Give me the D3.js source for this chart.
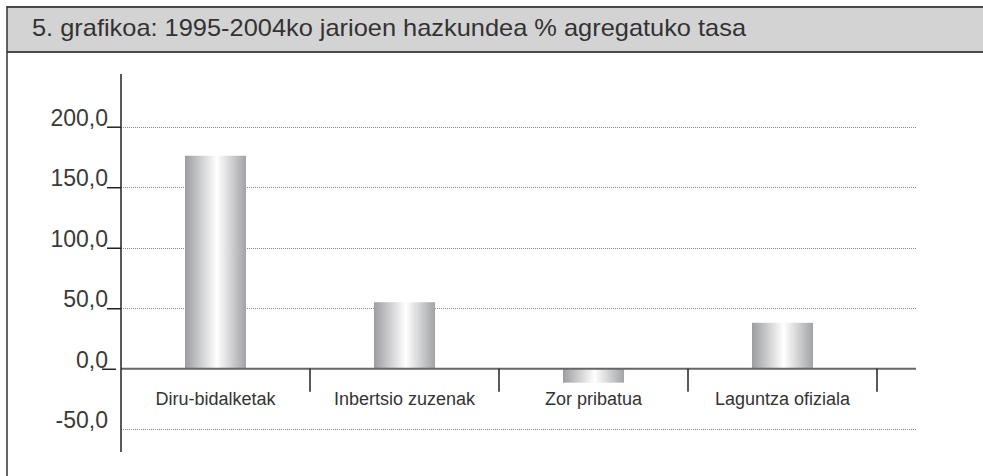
<!DOCTYPE html>
<meta charset="utf-8">
<style>

body {
  margin: 0;
  background: #fff;
  font-family: "Liberation Sans", Arial, sans-serif;
}

.grid line {
  stroke: #8a8a8a;
  stroke-dasharray: 1,1;
}

.y.axis path {
  display: none;
}

.y.axis line {
  stroke: #222;
  stroke-width: 1.5;
}

.y.axis text {
  font-size: 23px;
  fill: #3a3a3a;
}

.cat text {
  font-size: 18px;
  fill: #333;
  text-anchor: middle;
}

</style>
<body>

<script src="https://cdnjs.cloudflare.com/ajax/libs/d3/7.8.5/d3.min.js"></script>

<script>
var title = "5. grafikoa: 1995-2004ko jarioen hazkundea % agregatuko tasa";

var categories = ["Diru-bidalketak", "Inbertsio zuzenak", "Zor pribatua", "Laguntza ofiziala"];
var values = [176, 55, -11.5, 38];
var yTicks = [-50, 0, 50, 100, 150, 200];

var width = 983,
    height = 476;

var svg = d3.select("body").append("svg")
    .attr("width", width)
    .attr("height", height);

// header band
svg.append("rect")
    .attr("x", 7)
    .attr("y", 7)
    .attr("width", width - 7)
    .attr("height", 45)
    .attr("fill", "#d3d3d3");

svg.append("line")
    .attr("x1", 7).attr("x2", width)
    .attr("y1", 7).attr("y2", 7)
    .attr("stroke", "#4a4a4a").attr("stroke-width", 2);

svg.append("line")
    .attr("x1", 7).attr("x2", width)
    .attr("y1", 52).attr("y2", 52)
    .attr("stroke", "#4a4a4a").attr("stroke-width", 2);

svg.append("line")
    .attr("x1", 7).attr("x2", 7)
    .attr("y1", 6).attr("y2", height)
    .attr("stroke", "#333").attr("stroke-width", 1.5);

svg.append("text")
    .attr("x", 32)
    .attr("y", 36)
    .attr("textLength", 714)
    .attr("lengthAdjust", "spacingAndGlyphs")
    .style("font-size", "24px")
    .style("fill", "#333")
    .text(title);

// scales
var y = d3.scaleLinear()
    .domain([-50, 200])
    .range([429.3, 126.7]);

var x = d3.scaleBand()
    .domain(categories)
    .range([121, 877]);

var barW = x.bandwidth() * 0.323;
var gridEnd = 916;

// gradient for the bars
var grad = svg.append("defs").append("linearGradient")
    .attr("id", "barGrad")
    .attr("x1", "0%").attr("x2", "100%")
    .attr("y1", "0%").attr("y2", "0%");
grad.append("stop").attr("offset", "0%").attr("stop-color", "#9c9da1");
grad.append("stop").attr("offset", "52%").attr("stop-color", "#ffffff");
grad.append("stop").attr("offset", "100%").attr("stop-color", "#a2a3a7");

// dotted gridlines
svg.append("g")
    .attr("class", "grid")
  .selectAll("line")
    .data(yTicks.filter(function(d) { return d !== 0; }))
  .enter().append("line")
    .attr("x1", 121)
    .attr("x2", gridEnd)
    .attr("y1", function(d) { return Math.round(y(d)) + 0.5; })
    .attr("y2", function(d) { return Math.round(y(d)) + 0.5; });

// bars
svg.append("g").selectAll("rect")
    .data(values)
  .enter().append("rect")
    .attr("x", function(d, i) { return x(categories[i]) + (x.bandwidth() - barW) / 2; })
    .attr("width", barW)
    .attr("y", function(d) { return y(Math.max(0, d)); })
    .attr("height", function(d) { return Math.abs(y(d) - y(0)); })
    .attr("fill", "url(#barGrad)");

// zero line
svg.append("line")
    .attr("x1", 121).attr("x2", gridEnd)
    .attr("y1", y(0)).attr("y2", y(0))
    .attr("stroke", "#666").attr("stroke-width", 2);

// category dividers and labels
var cat = svg.append("g").attr("class", "cat");

cat.selectAll("line")
    .data(categories)
  .enter().append("line")
    .attr("x1", function(d) { return x(d) + x.bandwidth(); })
    .attr("x2", function(d) { return x(d) + x.bandwidth(); })
    .attr("y1", y(0))
    .attr("y2", y(0) + 23)
    .attr("stroke", "#222").attr("stroke-width", 1.5);

cat.selectAll("text")
    .data(categories)
  .enter().append("text")
    .attr("x", function(d) { return x(d) + x.bandwidth() / 2; })
    .attr("y", 405)
    .text(function(d) { return d; });

// y axis
var yAxis = d3.axisLeft(y)
    .tickValues(yTicks)
    .tickSize(14)
    .tickPadding(-1)
    .tickFormat(function(d) { return d3.format(".1f")(d).replace("\u2212", "-").replace(".", ","); });

var gy = svg.append("g")
    .attr("class", "y axis")
    .attr("transform", "translate(121,0)")
    .call(yAxis);

gy.selectAll("text").attr("dy", "-0.06em");
gy.selectAll(".tick").filter(function(d) { return d === -50; }).select("line").remove();
gy.selectAll(".tick").filter(function(d) { return d === 0; }).select("line")
    .attr("transform", "translate(-5,0)");

svg.append("line")
    .attr("x1", 121).attr("x2", 121)
    .attr("y1", 74).attr("y2", 452)
    .attr("stroke", "#222").attr("stroke-width", 1.5);

</script>
</body>
